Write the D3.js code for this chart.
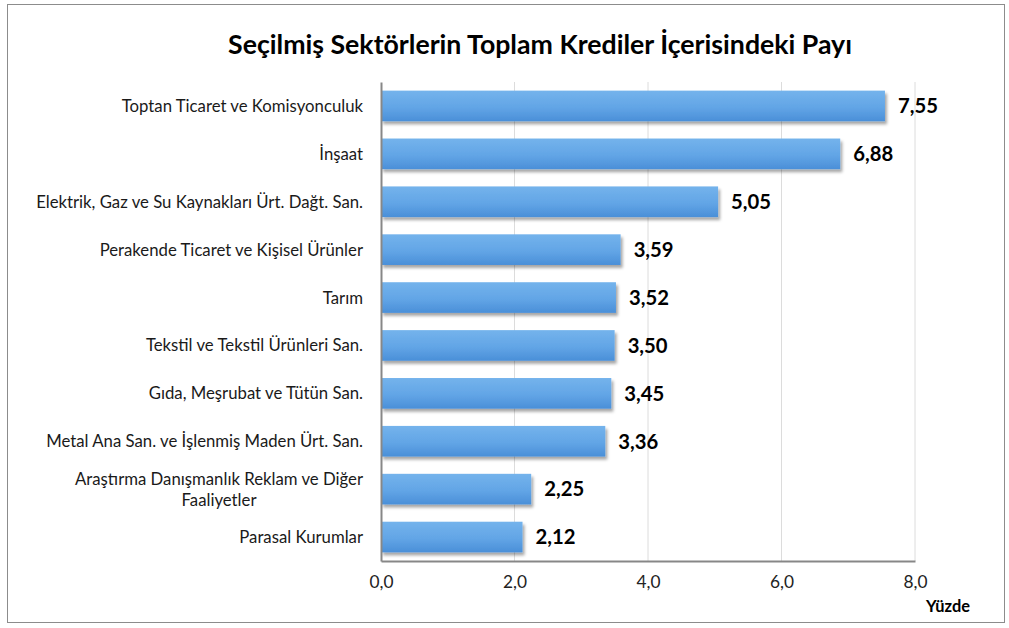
<!DOCTYPE html>
<html>
<head>
<meta charset="utf-8">
<script src="https://cdn.jsdelivr.net/npm/d3@7"></script>
<style>
  body { margin: 0; background: #fff; }
  text { font-family: Lato, "Open Sans", sans-serif; }
</style>
</head>
<body>
<div id="chart"></div>
<script>
const categories = [
  "Toptan Ticaret ve Komisyonculuk",
  "İnşaat",
  "Elektrik, Gaz ve Su Kaynakları Ürt. Dağt. San.",
  "Perakende Ticaret ve Kişisel Ürünler",
  "Tarım",
  "Tekstil ve Tekstil Ürünleri San.",
  "Gıda, Meşrubat ve Tütün San.",
  "Metal Ana San. ve İşlenmiş Maden Ürt. San.",
  "Araştırma Danışmanlık Reklam ve Diğer|Faaliyetler",
  "Parasal Kurumlar"
];
const values = [7.55, 6.88, 5.05, 3.59, 3.52, 3.50, 3.45, 3.36, 2.25, 2.12];
const ticks = [0, 2, 4, 6, 8];

const W = 1009, H = 628;
const margin = { top: 82, right: 94, bottom: 67, left: 381 };
const width = W - margin.left - margin.right;
const height = H - margin.top - margin.bottom;
const fmt = v => d3.format(".2f")(v).replace(".", ",");
const fmtTick = v => d3.format(".1f")(v).replace(".", ",");

const svg = d3.select("#chart").append("svg")
  .attr("width", W).attr("height", H);

// pick a font size so a sample string gets the width it has in the original (Calibri) chart
function fitSize(str, weight, target) {
  const t = svg.append("text").attr("font-size", 20).attr("font-weight", weight).text(str);
  const w = t.node().getComputedTextLength();
  t.remove();
  return 20 * target / w;
}
const titleSize = fitSize("Seçilmiş Sektörlerin Toplam Krediler İçerisindeki Payı", "bold", 624);
const labelSize = fitSize("Elektrik, Gaz ve Su Kaynakları Ürt. Dağt. San.", "normal", 327);
const valueSize = fitSize("7,55", "bold", 40);
const tickSize = fitSize("8,0", "normal", 24);
const unitSize = fitSize("Yüzde", "bold", 44);

const defs = svg.append("defs");
const grad = defs.append("linearGradient").attr("id", "barGrad")
  .attr("x1", 0).attr("y1", 0).attr("x2", 0).attr("y2", 1);
grad.append("stop").attr("offset", "0%").attr("stop-color", "#74b3ec");
grad.append("stop").attr("offset", "55%").attr("stop-color", "#62a5e6");
grad.append("stop").attr("offset", "100%").attr("stop-color", "#4a8fd8");
const shadow = defs.append("filter").attr("id", "shadow")
  .attr("x", "-5%").attr("y", "-20%").attr("width", "115%").attr("height", "160%");
shadow.append("feDropShadow").attr("dx", 2).attr("dy", 3)
  .attr("stdDeviation", 1.5).attr("flood-color", "#000").attr("flood-opacity", 0.35);

// outer frame
svg.append("rect").attr("x", 7.5).attr("y", 4.5).attr("width", 997).attr("height", 618)
  .attr("fill", "none").attr("stroke", "#8c8c8c").attr("stroke-width", 1);

svg.append("text")
  .attr("x", 540).attr("y", 54)
  .attr("text-anchor", "middle")
  .attr("font-size", titleSize).attr("font-weight", "bold").attr("fill", "#000")
  .text("Seçilmiş Sektörlerin Toplam Krediler İçerisindeki Payı");

const g = svg.append("g").attr("transform", `translate(${margin.left},${margin.top})`);

const x = d3.scaleLinear().domain([0, 8]).range([0, width]);
const y = d3.scaleBand().domain(categories).range([0, height]).paddingInner(0.36).paddingOuter(0.18);

// gridlines
g.append("g").selectAll("line").data(ticks.slice(1)).join("line")
  .attr("x1", d => x(d)).attr("x2", d => x(d))
  .attr("y1", 0).attr("y2", height)
  .attr("stroke", "#dcdcdc").attr("stroke-width", 1);

// bars
g.append("g").selectAll("rect").data(values).join("rect")
  .attr("x", 0)
  .attr("y", (d, i) => y(categories[i]))
  .attr("width", d => x(d))
  .attr("height", y.bandwidth())
  .attr("fill", "url(#barGrad)")
  .attr("filter", "url(#shadow)");

// value labels
g.append("g").selectAll("text").data(values).join("text")
  .attr("x", d => x(d) + 13)
  .attr("y", (d, i) => y(categories[i]) + y.bandwidth() / 2)
  .attr("dy", "0.36em")
  .attr("font-size", valueSize).attr("font-weight", "bold").attr("fill", "#000")
  .text(d => fmt(d));

// axes
const xAxis = g.append("g").attr("transform", `translate(0,${height})`)
  .call(d3.axisBottom(x).tickValues(ticks).tickSize(0).tickPadding(15).tickFormat(fmtTick));
xAxis.select(".domain").attr("stroke", "#878787").attr("stroke-width", 2);
xAxis.selectAll("text").attr("font-size", tickSize).attr("fill", "#222")
  .attr("font-family", "Lato, sans-serif");

const yAxis = g.append("g")
  .call(d3.axisLeft(y).tickSize(0).tickFormat(""));
yAxis.select(".domain").attr("stroke", "#878787").attr("stroke-width", 2);

// category labels (wrapped labels centered like the original)
const labelX = -18;
categories.forEach(c => {
  const lines = c.split("|");
  const cy = y(c) + y.bandwidth() / 2;
  const t = g.append("text")
    .attr("font-size", labelSize).attr("fill", "#1a1a1a");
  if (lines.length === 1) {
    t.attr("x", labelX).attr("y", cy).attr("dy", "0.36em")
      .attr("text-anchor", "end").text(c);
  } else {
    t.attr("text-anchor", "middle");
    const tmp = g.append("text").attr("font-size", labelSize).text(lines[0]);
    const w0 = tmp.node().getComputedTextLength();
    tmp.remove();
    lines.forEach((ln, k) => {
      t.append("tspan").attr("x", labelX - w0 / 2)
        .attr("y", cy + (k - (lines.length - 1) / 2) * 21)
        .attr("dy", "0.36em").text(ln);
    });
  }
});

svg.append("text")
  .attr("x", 970).attr("y", 612).attr("text-anchor", "end")
  .attr("font-size", unitSize).attr("font-weight", "bold").attr("fill", "#000")
  .text("Yüzde");
</script>
</body>
</html>
